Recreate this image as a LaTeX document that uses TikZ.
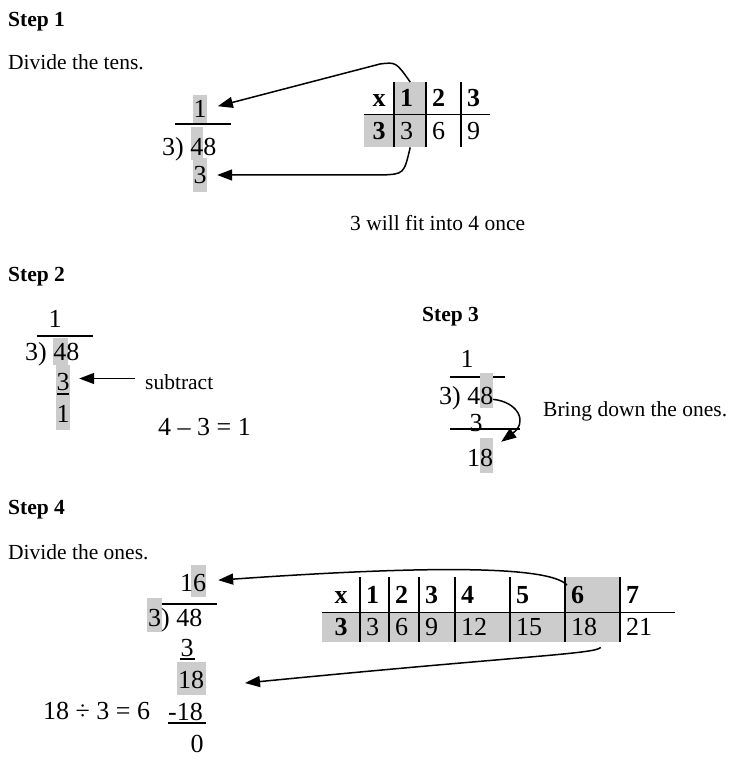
\documentclass[tikz,border=0pt]{standalone}
\usepackage{fontspec}
\setmainfont{Liberation Serif}
\usetikzlibrary{arrows.meta, positioning, calc}

\newcommand{\txtsize}{\fontsize{21.5}{26}\selectfont}
\newcommand{\numsize}{\fontsize{26}{31}\selectfont}

\begin{document}
\begin{tikzpicture}[
    x=1pt, y=-1pt,
    every node/.style={inner sep=0pt},
    steplabel/.style={anchor=base west, font=\txtsize\bfseries},
    note/.style={anchor=base west, font=\txtsize},
    num/.style={anchor=base west, font=\numsize},
    digit/.style={anchor=base, font=\numsize},
    hl/.style={fill=gray!40, font=\numsize, text height=17.5pt, text depth=0pt},
    cell/.style={anchor=north west, inner xsep=6pt, align=left, font=\numsize, text height=17.5pt, text depth=0pt},
    bar/.style={line width=2pt},
    grid/.style={line width=1.2pt},
    arrow/.style={-{Triangle[length=15pt,width=11pt]}, line width=1.5pt}
  ]
    \useasboundingbox (0,0) rectangle (733,762);

    % Step 1
    \node[steplabel] (st1) at (8,27) {Step 1};
    \node[note] (dv1) at (8,70) {Divide the tens.};
    \node[hl, minimum width=14pt, minimum height=28pt] (s1q) at (200,109) {1};
    \node[hl, minimum width=12pt, minimum height=33pt] (s1a) at (197,143.5) {};
    \node[num] (s1d) at (162,156) {3) 48};
    \node[hl, minimum width=14pt, minimum height=34pt] (s1s) at (200,175) {3};
    \draw[bar] (175,124) -- (231,124);

    \foreach \x/\w/\a/\b/\fa/\fb [count=\i, evaluate=\w as \tw using \w-12] in {
        364/30/\hfil\textbf{x}\hfil/\hfil\textbf{3}\hfil/none/gray!40,
        394/32/\textbf{1}/3/gray!40/gray!40,
        426/35/\textbf{2}/6/none/none,
        461/29/\textbf{3}/9/none/none}{
      \node[cell, fill=\fa, text width=\tw pt, minimum height=32pt] (s1h\i) at (\x,82) {\a};
      \node[cell, fill=\fb, text width=\tw pt, minimum height=33pt] (s1r\i) at (\x,114) {\b};
    }
    \foreach \i in {2,3,4}
      \draw[grid] (s1h\i.north west) -- (s1r\i.south west);
    \draw[grid] (s1h1.south west) -- (s1h4.south east);

    \draw[arrow, shorten >=11pt] (s1h2.north) .. controls (396,62) .. (380,64) -- (s1q.east);
    \draw[arrow, shorten >=10pt] (s1r2.south) .. controls (404,174) .. (382,175) -- (s1s.east);

    \node[note] (fit) at (350,230) {3 will fit into 4 once};

    % Step 2
    \node[steplabel] (st2) at (8,281) {Step 2};
    \node[digit] (s2q) at (55,327) {1};
    \draw[bar] (37,336) -- (93,336);
    \node[hl, minimum width=15pt, minimum height=27pt] (s2a) at (60.5,351.5) {};
    \node[num] (s2d) at (25,360) {3) 48};
    \node[hl, minimum width=14pt, minimum height=33pt] (s2s) at (63,381.5) {3};
    \node[hl, minimum width=14pt, minimum height=32pt] (s2r) at (63,414) {1};
    \draw[grid] (57,394) -- (69,394);
    \node[note] (s2sub) at (145,389) {subtract};
    \draw[arrow, shorten >=9pt] ($(s2sub.west |- s2s.east)+(-10,-3)$) -- ($(s2s.east)+(0,-3)$);
    \node[num] (s2eq) at (158,435) {4 – 3 = 1};

    % Step 3
    \node[steplabel] (st3) at (422,321) {Step 3};
    \node[digit] (s3q) at (467,367) {1};
    \draw[bar] (450,377) -- (505,377);
    \node[hl, minimum width=13pt, minimum height=35pt] (s3b) at (486.5,390.5) {};
    \node[num] (s3d) at (439,404) {3) 48};
    \node[digit] (s3s) at (476,431) {3};
    \draw[bar] (450,429) -- (520,429);
    \node[hl, minimum width=13pt, minimum height=35pt] (s3c) at (486.5,455.5) {};
    \node[num] (s3r) at (467,466) {18};
    \node[note] (s3txt) at (543,416) {Bring down the ones.};
    \draw[arrow] ($(s3b.east)!.5!(s3b.south east)$) .. controls (518,402) and (528,422) .. ([xshift=8pt,yshift=-4pt]s3c.north east);

    % Step 4
    \node[steplabel] (st4) at (8,514) {Step 4};
    \node[note] (dv4) at (8,559) {Divide the ones.};
    \node[hl, minimum width=15pt, minimum height=32pt] (s4q) at (198.5,581) {};
    \node[num] (s4a) at (180,591) {16};
    \draw[bar] (162,604) -- (217,604);
    \node[hl, minimum width=15pt, minimum height=34pt] (s4d) at (154.5,615) {};
    \node[num] (s4b) at (148,626) {3) 48};
    \node[digit] (s4s) at (187,656) {3};
    \draw[grid] (180,659) -- (195,659);
    \node[hl, minimum width=29pt, minimum height=33pt] (s4e) at (191.5,678.5) {};
    \node[num] (s4c) at (178,688) {18};
    \node[num] (s4eq) at (43,719) {18 ÷ 3 = 6};
    \node[num] (s4m) at (168,720) {-18};
    \draw[grid] (168,723) -- (206,723);
    \node[digit] (s4z) at (197,752) {0};

    \foreach \x/\w/\a/\b/\fa/\fb [count=\i, evaluate=\w as \tw using \w-12] in {
        322/38/\hfil\textbf{x}\hfil/\hfil\textbf{3}\hfil/none/gray!40,
        360/29/\textbf{1}/3/none/gray!40,
        389/30/\textbf{2}/6/none/gray!40,
        419/36/\textbf{3}/9/none/gray!40,
        455/55/\textbf{4}/12/none/gray!40,
        510/55/\textbf{5}/15/none/gray!40,
        565/55/\textbf{6}/18/gray!40/gray!40,
        620/55/\textbf{7}/21/none/none}{
      \node[cell, fill=\fa, text width=\tw pt, minimum height=35pt] (s4h\i) at (\x,577) {\a};
      \node[cell, fill=\fb, text width=\tw pt, minimum height=30pt] (s4r\i) at (\x,612) {\b};
    }
    \foreach \i in {2,...,8}
      \draw[grid] (s4h\i.north west) -- (s4r\i.south west);
    \draw[grid] (s4h1.south west) -- (s4h8.south east);

    \draw[arrow, shorten >=12pt] ($(s4h7.north west)+(2,8)$) .. controls (548,565) and (420,566) .. (s4q.east);
    \draw[arrow, shorten >=39pt] ($(s4r7.south)+(8,5)$) .. controls (596,654) and (520,656) .. ($(s4e.east)!.5!(s4e.south east)$);

  \end{tikzpicture}
\end{document}
